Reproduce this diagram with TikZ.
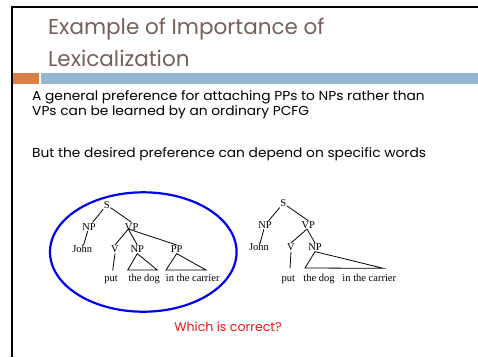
\documentclass[tikz,border=0pt]{standalone}
\usepackage{fontspec}
\setmainfont{Liberation Serif}
\newfontfamily\gothic{Poppins}
\newfontfamily\gothicw[FakeStretch=1.06]{Poppins}
\definecolor{titlec}{RGB}{117,96,90}
\definecolor{orangebar}{RGB}{221,128,71}
\definecolor{bluebar}{RGB}{148,182,210}
\definecolor{redtxt}{RGB}{240,20,20}
\definecolor{ellblue}{RGB}{0,0,240}
\tikzset{
  lbl/.style={inner sep=0.6pt, font=\fontsize{10.5}{11}\selectfont, text height=7pt, text depth=0pt},
  word/.style={inner sep=0pt, font=\fontsize{10.5}{11}\selectfont, anchor=base},
  edge/.style={draw=black, line width=0.8pt},
  body/.style={anchor=base west, inner sep=0pt, font=\gothicw\fontsize{13}{15}\selectfont},
  titletxt/.style={anchor=base west, inner sep=0pt, text=titlec, font=\gothic\fontsize{21.5}{24}\selectfont},
}
\begin{document}
\begin{tikzpicture}[x=1pt,y=-1pt]
\useasboundingbox (0,0) rectangle (478,357);
% frame
\fill[black] (10.5,5.5) rectangle (478,7.6);
\fill[black] (10.5,5.5) rectangle (12.6,357);
% bars
\fill[orangebar] (13,73) rectangle (39,84);
\fill[bluebar] (41,73) rectangle (478,84);
% title
\node[titletxt] (t1) at (48,34) {Example of Importance of};
\node[titletxt] (t2) at (48,66) {Lexicalization};
% body
\node[body] (b1) at (32,100) {A general preference for attaching PPs to NPs rather than};
\node[body] (b2) at (32,115) {VPs can be learned by an ordinary PCFG};
\node[body] (b3) at (32,157.5) {But the desired preference can depend on specific words};
\node[anchor=base, inner sep=0pt, text=redtxt, font=\gothic\fontsize{12.6}{14}\selectfont] (q) at (228,331) {Which is correct?};
% ellipse
\draw[ellblue, line width=2.2pt] (143.3,252) ellipse [x radius=93.3, y radius=59.7];
% tree 1
\node[lbl] (s1) at (106.7,205) {S};
\node[lbl] (np1) at (89,226.7) {NP};
\node[lbl] (vp1) at (131.7,226.7) {VP};
\node[lbl] (john1) at (82.3,249.3) {John};
\node[lbl] (v1) at (115,249.3) {V};
\node[lbl] (npb1) at (137.3,249.3) {NP};
\node[lbl] (pp1) at (176.7,249.3) {PP};
\node[word] (put1) at (111,281) {put};
\node[word] (dog1) at (144.3,281) {the dog};
\node[word] (car1) at (192.7,281) {in the carrier};
\coordinate (vph1) at (128.3,229);
\draw[edge] (s1) -- (np1);
\draw[edge] (s1) -- (vp1.north);
\draw[edge] (np1) -- (john1);
\draw[edge] (vph1) -- (v1.north);
\draw[edge] (vph1) -- (npb1.north);
\draw[edge] (vph1) -- (pp1.north);
\draw[edge] (v1.south) -- (112.7,270.5) coordinate (put1t);
\coordinate (dl1) at (127.7,270);
\coordinate (dr1) at (157.3,270);
\draw[edge] (npb1.south) -- (dl1) -- (dr1) -- cycle;
\coordinate (cl1) at (166,270);
\coordinate (cr1) at (206,270);
\draw[edge] (pp1.south) -- (cl1) -- (cr1) -- cycle;
% tree 2
\node[lbl] (s2) at (283.3,203.3) {S};
\node[lbl] (np2) at (265,225) {NP};
\node[lbl] (vp2) at (308.3,225) {VP};
\node[lbl] (john2) at (259,247.3) {John};
\node[lbl] (v2) at (291,247.3) {V};
\node[lbl] (npb2) at (315,247.3) {NP};
\node[word] (put2) at (288.3,281) {put};
\node[word] (dog2) at (319,281) {the dog};
\node[word] (car2) at (369.3,281) {in the carrier};
\coordinate (vph2) at (307,229);
\draw[edge] (s2) -- (np2);
\draw[edge] (s2) -- (vp2.north);
\draw[edge] (np2) -- (john2);
\draw[edge] (vph2) -- (v2.north);
\draw[edge] (vph2) -- (npb2.north);
\draw[edge] (v2.south) -- (290,268.3) coordinate (put2t);
\coordinate (dl2) at (305,268);
\coordinate (dr2) at (383.3,268.3);
\draw[edge] (npb2.south) -- (dl2) -- (dr2) -- cycle;
\end{tikzpicture}
\end{document}
